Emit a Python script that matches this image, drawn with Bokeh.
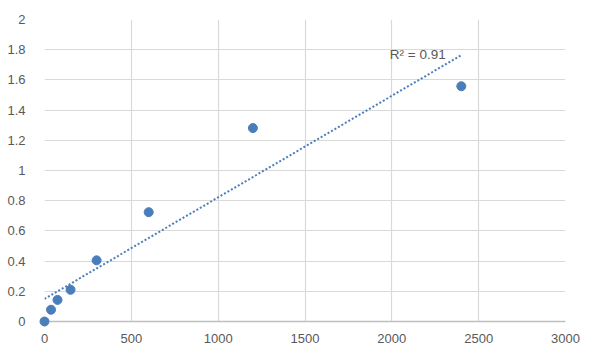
import numpy as np
from bokeh.plotting import figure
from bokeh.models import ColumnDataSource, CustomJSTickFormatter, FixedTicker, Range1d, Label
from bokeh.embed import file_html
from bokeh.resources import INLINE

# data
conc = [0, 37.5, 75, 150, 300, 600, 1200, 2400]
od = [0.0, 0.078, 0.143, 0.21, 0.405, 0.724, 1.281, 1.558]
x_ticks = [0, 500, 1000, 1500, 2000, 2500, 3000]
y_ticks = [0, 0.2, 0.4, 0.6, 0.8, 1.0, 1.2, 1.4, 1.6, 1.8, 2.0]
r2_label = "R\u00b2 = 0.91"

FONT = "Liberation Sans"
GRAY = "#595959"
BLUE = "#4a7ebb"

p = figure(width=584, height=345, output_backend="svg", toolbar_location=None,
           x_range=Range1d(0, 3000), y_range=Range1d(0, 2),
           min_border_left=44, min_border_right=19, min_border_top=19, min_border_bottom=19)
p.outline_line_color = None
p.border_fill_color = "white"
p.background_fill_color = "white"

# trendline (least squares)
slope, intercept = np.polyfit(conc, od, 1)
tx = [0, 2400]
ty = [intercept + slope * v for v in tx]
p.line(tx, ty, line_color=BLUE, line_width=2, line_dash="2 2")

src = ColumnDataSource(dict(x=conc, y=od))
p.scatter("x", "y", source=src, size=9, fill_color=BLUE, line_color=BLUE, level="overlay")

p.add_layout(Label(x=2000, y=1.72, text=r2_label, text_font=FONT, text_font_size="13.5px",
                   text_color=GRAY, x_offset=-2))

for ax in (p.xaxis[0], p.yaxis[0]):
    ax.major_tick_line_color = None
    ax.minor_tick_line_color = None
    ax.major_label_text_font = FONT
    ax.major_label_text_font_size = "13px"
    ax.major_label_text_color = GRAY
p.xaxis.ticker = FixedTicker(ticks=x_ticks)
p.yaxis.ticker = FixedTicker(ticks=y_ticks)
p.yaxis.formatter = CustomJSTickFormatter(code="return String(Math.round(tick*10)/10);")
p.xaxis.axis_line_color = "#bfbfbf"
p.xaxis.axis_line_width = 1.5
p.yaxis.axis_line_color = None
p.xaxis.major_label_standoff = 6
p.yaxis.major_label_standoff = 13

p.xgrid.ticker = FixedTicker(ticks=x_ticks)
p.ygrid.ticker = FixedTicker(ticks=y_ticks)
p.grid.grid_line_color = "#d9d9d9"
p.grid.grid_line_width = 1.2

open("out.html", "w").write(file_html(p, INLINE))
